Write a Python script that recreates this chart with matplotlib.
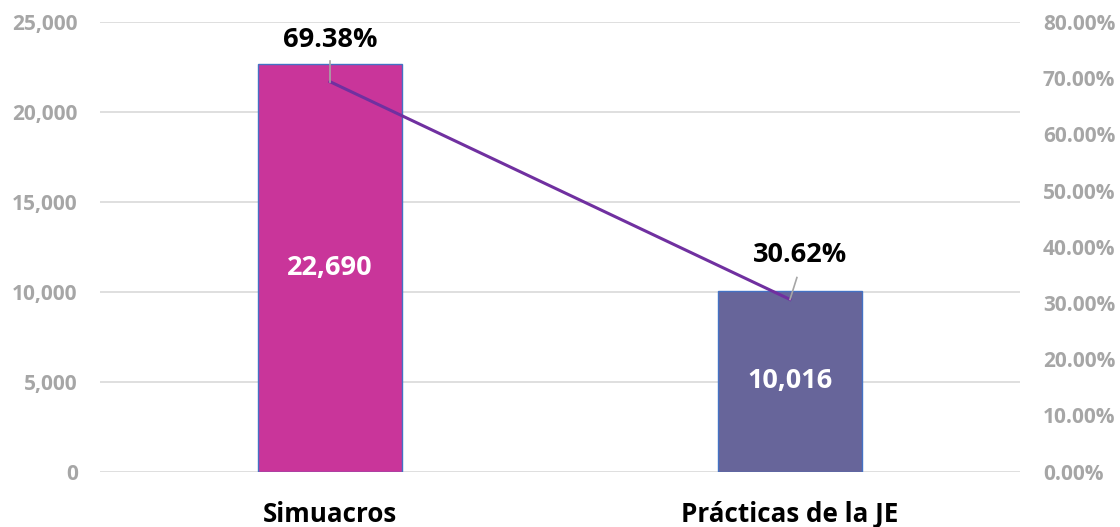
import matplotlib.pyplot as plt
from matplotlib.ticker import FuncFormatter

# Data
categories = ['Simuacros', 'Prácticas de la JE']
counts = [22690, 10016]
shares = [69.38, 30.62]
bar_colors = ['#C9359A', '#67659A']

plt.rcParams['font.family'] = ['Open Sans', 'DejaVu Sans']

fig = plt.figure(figsize=(11.2, 5.27), dpi=100)
ax = fig.add_axes([100 / 1120, 1 - 471.5 / 527, 920 / 1120, 449.5 / 527])
ax2 = ax.twinx()

x = list(range(len(categories)))
bars = ax.bar(x, counts, width=0.313, color=bar_colors, edgecolor='#4472C4', linewidth=1.0, zorder=3)

ax.set_xlim(-0.5, len(categories) - 0.5)
ax.set_ylim(0, 25000)
ax.set_yticks(range(0, 25001, 5000))
ax.yaxis.set_major_formatter(FuncFormatter(lambda v, p: f'{int(v):,}'))
ax.grid(axis='y', color='#D9D9D9', linewidth=1.2, zorder=0)
ax.set_axisbelow(True)

ax2.set_ylim(0, 80)
ax2.set_yticks(range(0, 81, 10))
ax2.yaxis.set_major_formatter(FuncFormatter(lambda v, p: f'{v:.2f}%'))

for a in (ax, ax2):
    for s in a.spines.values():
        s.set_visible(False)
    a.tick_params(axis='both', length=0)
for lbl in ax.get_yticklabels() + ax2.get_yticklabels():
    lbl.set_color('#A6A6A6')
    lbl.set_fontweight('bold')
    lbl.set_fontsize(15)
ax.tick_params(axis='y', pad=16)
ax2.tick_params(axis='y', pad=16.5)

ax.set_xticks(x)
ax.set_xticklabels(categories, fontsize=18.7, fontweight='bold', color='black')
ax.tick_params(axis='x', pad=21)

# bar value labels
for rect, v in zip(bars, counts):
    ax.text(rect.get_x() + rect.get_width() / 2, v / 2, f'{v:,}', ha='center', va='center',
            color='white', fontsize=19.5, fontweight='bold', zorder=5)

# line on secondary axis
ax2.plot(x, shares, color='#7030A0', linewidth=2.2, zorder=4)

# percent labels with leader lines
label_offsets = [(0, 6.1, 0, 3.7), (0.022, 6.6, 0.015, 3.9)]
for xi, s, (dx, dy, lx, ly) in zip(x, shares, label_offsets):
    ax2.plot([xi, xi + lx], [s, s + ly], color='#A6A6A6', linewidth=1.2, zorder=5)
    ax2.text(xi + dx, s + dy, f'{s:.2f}%', ha='center', va='baseline',
             fontsize=19.5, fontweight='bold', color='black')

fig.savefig('out.png', dpi=100)
